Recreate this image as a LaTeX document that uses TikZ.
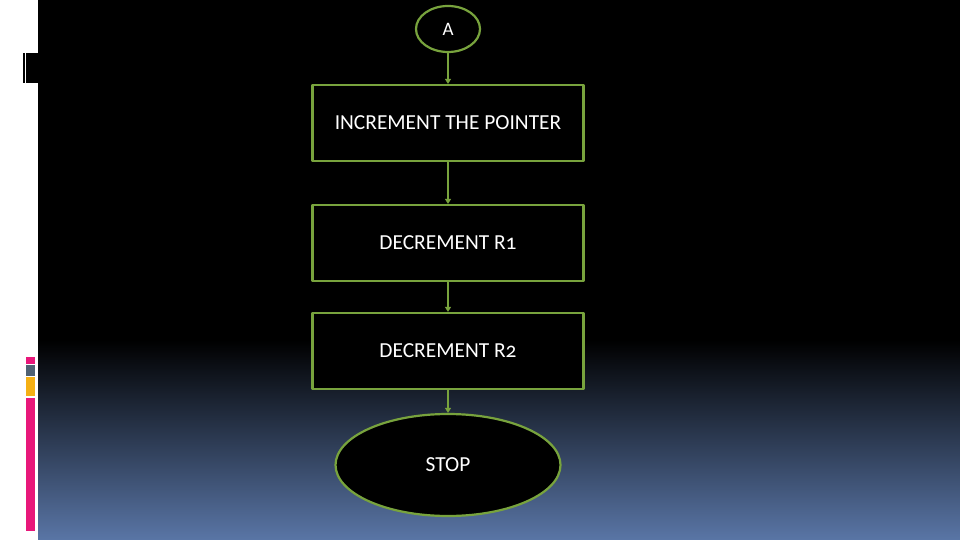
\documentclass[tikz,border=0pt]{standalone}
\usepackage{fontspec}
\setmainfont[Numbers=OldStyle]{Carlito}
\usetikzlibrary{arrows.meta,shapes.geometric}
\definecolor{flowgreen}{rgb}{0.47,0.64,0.24}
\definecolor{bgblue}{rgb}{0.35,0.46,0.65}
\definecolor{barpink}{rgb}{0.91,0.09,0.48}
\definecolor{bargray}{rgb}{0.31,0.38,0.45}
\definecolor{barorange}{rgb}{0.96,0.69,0.08}

\tikzset{
  stepbox/.style={draw=flowgreen,line width=2.2pt,fill=black,minimum width=271pt,minimum height=76pt,inner sep=0pt},
  endcap/.style={ellipse,draw=flowgreen,line width=2.2pt,fill=black,inner sep=0pt},
  flowtext/.style={text=white,font=\fontsize{21.4}{24}\selectfont},
  flowarrow/.style={draw=flowgreen,line width=1.3pt,-{Triangle[length=5pt,width=6pt]}}
}

\begin{document}
\begin{tikzpicture}[x=1pt,y=-1pt,line cap=round,line join=round]
\useasboundingbox (0,0) rectangle (960,540);
% background
\fill [white] (0,0) rectangle (960,540);
\fill [black] (38,0) rectangle (960,340);
\shade [top color=black,bottom color=bgblue] (38,340) rectangle (960,540);
% side marks
\fill [black] (22.7,52.7) rectangle (25,82.7);
\fill [black] (26,52.7) rectangle (38,82.7);
\fill [barpink] (26,357) rectangle (35,364);
\fill [bargray] (26,365) rectangle (35,376);
\fill [barorange] (26,377) rectangle (35,396);
\fill [barpink] (26,397.5) rectangle (35,531);
% flow chart
\node [endcap,minimum width=64pt,minimum height=46pt,flowtext,font=\fontsize{19}{22}\selectfont] (a) at (448,29) {A};
\node [stepbox,flowtext] (inc) at (448,123) {INCREMENT THE POINTER};
\node [stepbox,flowtext] (dec1) at (448,243) {DECREMENT R1};
\node [stepbox,flowtext] (dec2) at (448,351) {DECREMENT R2};
\node [endcap,minimum width=225pt,minimum height=102pt,flowtext] (stop) at (448,465) {STOP};
\draw [flowarrow] (a) -- (inc);
\draw [flowarrow] (inc) -- (dec1);
\draw [flowarrow] (dec1) -- (dec2);
\draw [flowarrow] (dec2) -- (stop);
\end{tikzpicture}
\end{document}
